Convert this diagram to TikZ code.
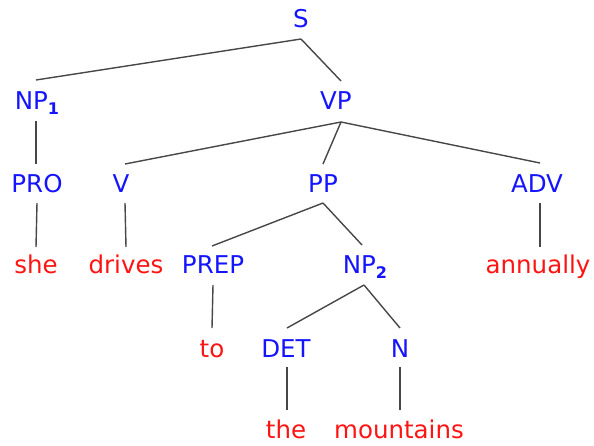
\documentclass[tikz,border=0pt]{standalone}
\usepackage{fontspec}
\setmainfont{DejaVu Sans}
\definecolor{catblue}{RGB}{20,20,255}
\definecolor{wordred}{RGB}{255,20,20}
\newcommand\sbsc[1]{\raisebox{-5pt}{\fontsize{16}{16}\selectfont\bfseries #1}}
\begin{document}
\begin{tikzpicture}[x=1pt,y=-1pt,
  cat/.style={text=catblue, anchor=base, inner sep=0pt, font=\fontsize{24.5}{28}\selectfont},
  word/.style={cat, text=wordred},
  edge/.style={draw=black!72, line width=1.4pt}]
\useasboundingbox (0,0) rectangle (594,445);
% row 0
\node[cat] (S) at (301,27) {S};
% row 1
\node[cat] (NP1) at (37,109) {NP\sbsc{1}};
\node[cat] (VP) at (336,109) {VP};
% row 2
\node[cat] (PRO) at (37,192) {PRO};
\node[cat] (V) at (121,192) {V};
\node[cat] (PP) at (323,192) {PP};
\node[cat] (ADV) at (537,192) {ADV};
% row 3
\node[word] (she) at (36,273) {she};
\node[word] (drives) at (126,273) {drives};
\node[cat] (PREP) at (213,273) {PREP};
\node[cat] (NP2) at (365,273) {NP\sbsc{2}};
\node[word] (annually) at (538,273) {annually};
% row 4
\node[word] (to) at (212,357) {to};
\node[cat] (DET) at (286,357) {DET};
\node[cat] (N) at (400,357) {N};
% row 5
\node[word] (the) at (286,438) {the};
\node[word] (mountains) at (399,438) {mountains};
% edges
\draw[edge] ([yshift=-12pt]S.base) -- ([xshift=-1pt,yshift=29pt]NP1.base);
\draw[edge] ([yshift=-12pt]S.base) -- ([xshift=5pt,yshift=28pt]VP.base);
\draw[edge] ([xshift=-1pt,yshift=-12pt]NP1.base) -- ([xshift=-1pt,yshift=28pt]PRO.base);
\draw[edge] ([xshift=5pt,yshift=-13pt]VP.base) -- ([xshift=4pt,yshift=28pt]V.base);
\draw[edge] ([xshift=5pt,yshift=-13pt]VP.base) -- ([yshift=28pt]PP.base);
\draw[edge] ([xshift=5pt,yshift=-13pt]VP.base) -- ([xshift=3pt,yshift=29pt]ADV.base);
\draw[edge] ([yshift=-11pt]PRO.base) -- ([yshift=26pt]she.base);
\draw[edge] ([xshift=4pt,yshift=-11pt]V.base) -- ([yshift=26pt]drives.base);
\draw[edge] ([yshift=-11pt]PP.base) -- ([xshift=-1pt,yshift=27pt]PREP.base);
\draw[edge] ([yshift=-11pt]PP.base) -- ([xshift=-3pt,yshift=28pt]NP2.base);
\draw[edge] ([xshift=3pt,yshift=-11pt]ADV.base) -- ([xshift=2pt,yshift=26pt]annually.base);
\draw[edge] ([yshift=-12pt]PREP.base) -- ([yshift=29pt]to.base);
\draw[edge] ([xshift=-1pt,yshift=-12pt]NP2.base) -- ([xshift=1pt,yshift=29pt]DET.base);
\draw[edge] ([xshift=-1pt,yshift=-12pt]NP2.base) -- ([yshift=29pt]N.base);
\draw[edge] ([xshift=1pt,yshift=-10pt]DET.base) -- ([xshift=1pt,yshift=28pt]the.base);
\draw[edge] ([yshift=-10pt]N.base) -- ([xshift=1pt,yshift=28pt]mountains.base);
\end{tikzpicture}
\end{document}
